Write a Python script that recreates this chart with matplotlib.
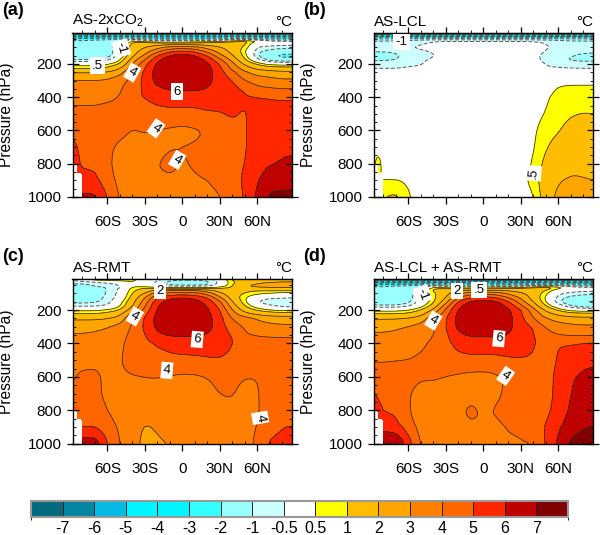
import numpy as np
import matplotlib
matplotlib.use("Agg")
import matplotlib.pyplot as plt
from matplotlib.colors import ListedColormap, BoundaryNorm
from matplotlib.cm import ScalarMappable

plt.rcParams['font.family'] = ['Liberation Sans', 'DejaVu Sans']
plt.rcParams['mathtext.fontset'] = 'custom'
plt.rcParams['mathtext.rm'] = 'Liberation Sans'
plt.rcParams['mathtext.default'] = 'regular'

N = float('nan')
lats = [-88,-84,-80,-70,-60,-50,-40,-30,-20,-10,0,10,20,30,40,50,60,70,80,88]
pres = [14,28,42,55,65,75,85,100,125,150,175,200,225,250,300,350,400,500,600,700,800,850,900,1000]
levels = [-7,-6,-5,-4,-3,-2,-1,-0.5,0.5,1,2,3,4,5,6,7]
level_labels = ['-7','-6','-5','-4','-3','-2','-1','-0.5','0.5','1','2','3','4','5','6','7']
colors = ['#036b7d','#05859f','#06bce4','#00f6ff','#00f6ff','#33ffff','#99ffff','#ccffff','#ffffff',
          '#ffff00','#ffbd00','#ffa500','#ff8000','#ff6600','#ff2600','#bf0000','#800000']

as_2xco2 = [
[-7.6]*20,
[-5.5]*20,
[-3.5]*20,
[-2.2,-2.2,-2.2,-2.0,-1.8,-1.4,-0.3,-0.9,-1.3,-1.4,-1.4,-1.3,-1.2,-0.9,-0.3,-0.1,-0.6,-1.0,-1.1,-1.1],
[-1.8,-1.8,-1.8,-1.7,-1.6,-1.0,0.7,0.4,0.2,0.2,0.2,0.3,0.4,0.6,0.9,1.2,0.5,-0.3,-0.4,-0.4],
[-1.6,-1.6,-1.6,-1.6,-1.5,-0.6,1.2,1.4,1.1,1.0,1.0,1.1,1.2,1.3,1.4,1.3,-0.1,-0.3,-0.3,-0.3],
[-1.6,-1.6,-1.6,-1.6,-1.5,-0.5,1.4,1.6,1.8,2.0,2.2,2.0,1.8,1.6,1.5,1.1,-0.3,-0.3,-0.4,-0.4],
[-1.6,-1.6,-1.6,-1.6,-1.5,-0.3,1.5,1.9,2.6,3.3,3.5,3.3,2.6,2.0,1.6,0.9,-0.5,-0.7,-0.8,-0.8],
[-1.6,-1.6,-1.6,-1.6,-1.5,-0.4,1.5,2.5,3.8,4.9,5.3,4.9,3.8,2.6,1.7,0.6,-0.9,-1.2,-1.5,-1.5],
[-1.6,-1.6,-1.6,-1.6,-1.4,-0.2,1.8,3.2,5.0,6.1,6.4,6.1,5.0,3.3,2.1,0.8,-1.0,-1.8,-2.3,-2.3],
[-1.0,-1.0,-1.0,-1.0,-0.7,0.4,2.5,4.0,5.8,6.6,6.7,6.6,5.8,4.2,2.7,1.1,-0.3,-1.3,-1.6,-1.6],
[0.2,0.2,0.2,0.2,0.4,1.0,3.0,4.7,6.2,6.8,6.9,6.8,6.2,5.0,3.3,1.8,0.9,0.3,0.2,0.2],
[0.9,0.9,0.9,0.9,1.1,1.9,3.5,5.0,6.4,6.9,6.9,6.9,6.4,5.2,3.7,2.5,1.7,1.4,1.3,1.3],
[1.9,1.9,1.9,1.9,2.0,2.6,3.9,5.2,6.5,6.9,6.9,6.9,6.5,5.4,4.3,3.1,2.6,2.4,2.2,2.2],
[3.1,3.1,3.1,3.1,3.2,3.7,4.3,5.3,6.4,6.7,6.8,6.7,6.4,5.5,5.1,4.0,3.6,3.4,3.2,3.2],
[3.4,3.4,3.4,3.4,3.5,3.9,4.5,5.2,5.8,6.1,6.15,6.15,6.0,5.3,5.3,4.9,4.2,4.1,4.0,4.0],
[3.7,3.7,3.7,3.7,3.8,4.0,4.7,5.1,5.4,5.5,5.5,5.5,5.5,5.3,5.3,5.1,5.05,5.0,4.95,4.95],
[4.3,4.3,4.3,4.3,4.4,4.4,4.4,4.4,4.6,4.7,4.7,4.7,4.9,4.97,5.1,4.9,5.3,5.3,5.3,5.3],
[4.8,4.7,4.6,4.5,4.4,4.3,3.95,4.1,3.95,3.8,3.7,3.8,4.0,4.4,4.8,4.9,5.4,5.5,5.5,5.5],
[5.2,5.0,4.7,4.5,4.2,3.8,3.6,3.6,3.7,3.95,4.05,4.1,4.3,4.5,4.7,4.9,5.4,5.7,5.9,5.9],
[6.0,5.2,4.8,4.5,4.2,3.6,3.4,3.5,4.0,4.25,3.9,4.1,4.3,4.4,4.6,5.0,5.5,5.95,6.05,6.1],
[N,5.5,5.2,5.1,4.3,3.65,3.35,3.45,3.9,4.05,3.85,4.0,4.15,4.3,4.55,5.1,5.7,6.3,6.3,6.35],
[N,N,5.4,5.2,4.4,3.7,3.3,3.4,3.7,3.9,3.8,3.9,4.0,4.2,4.5,5.2,5.9,6.6,6.6,6.6],
[N,N,6.2,6.3,5.0,3.9,3.2,3.5,3.8,3.95,3.9,3.8,3.8,3.95,4.3,5.1,6.2,7.2,7.3,7.3],
]

as_lcl = [
[-7.6]*20,
[-5.5]*20,
[-3.0]*20,
[-1.3,-1.3,-1.3,-1.2,-1.1,-0.9,-0.8,-0.8,-0.8,-0.8,-0.8,-0.8,-0.8,-0.8,-0.8,-0.9,-1.1,-1.2,-1.3,-1.3],
[-0.9,-0.9,-0.9,-0.9,-0.9,-0.8,-0.55,-0.5,-0.5,-0.5,-0.5,-0.5,-0.5,-0.5,-0.55,-0.65,-0.8,-0.9,-0.9,-0.9],
[-0.8,-0.8,-0.8,-0.8,-0.8,-0.6,-0.4,-0.2,-0.2,-0.2,-0.2,-0.2,-0.2,-0.2,-0.3,-0.55,-0.7,-0.75,-0.8,-0.8],
[-0.8,-0.8,-0.8,-0.8,-0.7,-0.5,-0.3,-0.1,-0.1,-0.1,-0.1,-0.1,-0.1,-0.1,-0.2,-0.5,-0.65,-0.75,-0.8,-0.8],
[-0.85,-0.85,-0.85,-0.8,-0.55,-0.4,-0.2,-0.1,0,0,0,0,0,0,-0.15,-0.45,-0.6,-0.75,-0.8,-0.8],
[-0.95,-0.95,-0.95,-0.9,-0.7,-0.6,-0.45,-0.15,0,0,0,0,0,0,-0.2,-0.55,-0.7,-0.85,-0.9,-0.95],
[-1.3,-1.3,-1.3,-1.1,-0.8,-0.7,-0.56,-0.2,0,0,0,0,0,0,-0.35,-0.65,-0.8,-0.95,-1.1,-1.1],
[-1.1,-1.1,-1.1,-1.0,-0.75,-0.6,-0.4,-0.1,0,0,0,0,0,0,-0.3,-0.65,-0.8,-1.08,-1.2,-1.2],
[-0.65,-0.65,-0.65,-0.65,-0.6,-0.55,-0.3,0,0,0,0,0,0,0,-0.15,-0.55,-0.6,-0.65,-0.65,-0.65],
[-0.52,-0.52,-0.52,-0.52,-0.45,-0.4,-0.1,0,0,0,0,0,0,0,-0.1,-0.45,-0.48,-0.5,-0.52,-0.52],
[-0.3,-0.3,-0.3,-0.3,-0.3,-0.2,0,0,0,0,0,0,0,0,0,-0.2,-0.3,-0.3,-0.3,-0.3],
[0.1,0.1,0.1,0.1,0.1,0.1,0.1,0.1,0.1,0.1,0.1,0.1,0.1,0.1,0.1,0.2,0.35,0.35,0.35,0.35],
[0.1,0.1,0.1,0.1,0.1,0.1,0.1,0.1,0.1,0.1,0.1,0.1,0.1,0.1,0.1,0.3,0.55,0.62,0.62,0.62],
[0.1,0.1,0.1,0.1,0.1,0.1,0.1,0.1,0.1,0.1,0.1,0.1,0.1,0.1,0.15,0.42,0.65,0.7,0.72,0.72],
[0.1,0.1,0.1,0.1,0.1,0.1,0.1,0.1,0.1,0.1,0.1,0.1,0.1,0.1,0.3,0.52,0.8,0.95,1.02,1.0],
[0.1,0.1,0.1,0.1,0.1,0.1,0.1,0.1,0.1,0.1,0.1,0.1,0.1,0.1,0.4,0.75,0.95,1.2,1.3,1.3],
[0.3,0.2,0.1,0.1,0.1,0.1,0.1,0.1,0.1,0.1,0.1,0.1,0.1,0.15,0.42,0.95,1.25,1.4,1.5,1.5],
[0.3,0.85,0.2,0.1,0.1,0.1,0.1,0.1,0.1,0.1,0.1,0.1,0.1,0.2,0.55,1.2,1.5,1.7,1.8,1.8],
[N,0.8,0.2,0.2,0.1,0.1,0.1,0.1,0.1,0.1,0.1,0.1,0.1,0.25,0.6,1.3,1.7,1.95,1.95,1.95],
[N,N,0.5,0.5,0.38,0.1,0.1,0.1,0.1,0.1,0.1,0.1,0.1,0.3,0.7,1.45,1.9,2.1,2.02,1.97],
[N,N,1.0,1.2,0.6,0.1,0.1,0.1,0.1,0.1,0.1,0.1,0.1,0.2,0.38,1.4,2.3,2.5,2.4,2.3],
]

as_rmt = [
[-0.3,-0.2,0.2,1.2,1.3,1.2,0.7,0.1,-0.3,-0.7,-0.8,-0.8,-0.7,-0.1,1.2,1.5,1.6,1.7,1.7,1.7],
[-0.6,-0.6,-0.5,-0.3,-0.1,0.3,0.6,0.1,-0.6,-1.1,-1.2,-1.2,-1.1,-0.3,0.9,1.5,1.7,1.8,1.9,1.9],
[-1.0,-1.0,-1.0,-0.8,-0.6,-0.4,0.4,0.1,-0.7,-1.3,-1.4,-1.4,-1.2,-0.3,0.9,1.7,2.0,2.2,2.3,2.3],
[-1.2,-1.2,-1.2,-1.0,-0.8,-0.5,0.4,0.2,-0.3,-0.7,-0.8,-0.8,-0.7,0.0,1.0,1.9,2.2,2.3,2.4,2.4],
[-1.2,-1.2,-1.2,-1.1,-1.0,-0.6,0.6,0.8,0.6,0.5,0.5,0.5,0.5,0.7,1.1,1.7,1.9,2.0,2.0,2.0],
[-1.3,-1.3,-1.3,-1.2,-1.0,-0.4,0.8,1.2,1.5,1.6,1.6,1.6,1.5,1.3,1.2,1.3,1.4,1.4,1.4,1.4],
[-1.3,-1.3,-1.3,-1.2,-1.0,-0.4,0.9,1.4,2.5,3.3,3.4,3.3,2.6,1.6,1.2,1.1,1.0,1.0,1.0,1.0],
[-1.3,-1.3,-1.3,-1.2,-1.0,-0.3,1.0,2.0,3.6,4.3,4.4,4.3,3.6,2.2,1.3,1.0,0.7,0.5,0.3,0.2],
[-1.3,-1.3,-1.3,-1.2,-0.9,-0.2,1.3,2.9,5.0,5.8,6.1,5.8,5.0,3.2,1.5,0.6,-0.2,-0.35,-0.4,-0.45],
[-1.2,-1.2,-1.2,-1.1,-0.8,0.2,1.6,3.5,5.7,6.4,6.5,6.4,5.7,4.2,2.0,0.6,-0.5,-0.9,-1.05,-1.1],
[-0.6,-0.6,-0.6,-0.6,-0.4,0.4,1.9,3.9,6.0,6.6,6.7,6.6,6.0,4.7,2.5,1.0,0.0,-0.4,-0.7,-0.8],
[0.3,0.4,0.4,0.4,0.6,1.0,2.6,4.3,6.2,6.8,6.8,6.8,6.2,5.1,3.0,1.6,0.9,0.5,0.35,0.3],
[1.1,1.1,1.1,1.1,1.3,1.8,3.4,4.8,6.3,6.9,6.9,6.9,6.3,5.3,3.5,2.4,1.9,1.6,1.5,1.5],
[1.8,1.8,1.8,1.8,1.9,2.3,4.05,5.05,6.4,6.9,6.9,6.9,6.4,5.4,3.9,3.4,2.9,2.6,2.5,2.5],
[2.8,2.8,2.8,2.85,3.0,3.4,4.1,5.2,6.3,6.7,6.8,6.7,6.4,5.5,4.5,3.9,3.5,3.3,3.2,3.2],
[3.05,3.05,3.05,3.1,3.2,3.6,4.3,4.95,5.8,6.1,6.1,6.1,5.95,5.4,5.0,4.05,4.0,3.95,3.95,3.95],
[3.3,3.3,3.3,3.35,3.5,3.8,4.4,4.8,5.1,5.3,5.5,5.5,5.5,5.4,5.1,4.4,4.2,4.2,4.15,4.15],
[3.7,3.7,3.7,3.8,3.85,3.95,4.3,4.4,4.6,4.75,4.75,4.8,4.9,4.98,4.7,4.4,4.4,4.4,4.4,4.4],
[3.9,4.05,4.2,4.2,3.8,3.9,3.95,4.0,4.03,3.9,3.8,3.8,3.95,4.2,4.2,4.0,4.0,4.3,4.4,4.4],
[4.2,4.3,4.4,4.2,3.8,3.7,3.7,3.7,3.6,3.6,3.6,3.7,3.85,4.0,4.05,3.8,3.9,4.4,4.5,4.5],
[4.4,4.4,4.4,4.3,4.02,3.6,3.4,3.3,3.4,3.5,3.5,3.6,3.7,3.85,3.9,3.7,3.9,4.4,4.6,4.7],
[N,4.6,4.5,4.4,4.2,3.7,3.3,3.1,3.2,3.4,3.5,3.6,3.65,3.8,3.85,3.7,3.95,4.4,4.75,4.85],
[N,N,4.9,4.9,4.4,3.85,3.2,2.95,3.05,3.3,3.5,3.55,3.6,3.7,3.8,3.65,4.0,4.5,4.95,5.0],
[N,N,6.6,6.8,5.0,4.0,3.2,2.85,2.9,3.0,3.2,3.3,3.3,3.4,3.5,3.6,4.2,5.2,5.4,5.4],
]

as_sum = [
[-7.6]*20,
[-5.5]*20,
[-3.5]*20,
[-2.2,-2.2,-2.2,-2.0,-1.8,-1.4,-0.3,-0.9,-1.2,-1.3,-1.3,-1.2,-1.1,-0.8,-0.3,-0.1,-0.5,-0.9,-1.0,-1.0],
[-1.8,-1.8,-1.8,-1.7,-1.6,-0.9,0.7,0.4,0.3,0.3,0.3,0.4,0.4,0.6,0.9,1.2,0.9,-0.2,-0.4,-0.4],
[-1.6,-1.6,-1.6,-1.6,-1.4,-0.5,1.1,1.3,1.2,1.1,1.1,1.2,1.3,1.4,1.5,1.3,0.4,-0.2,-0.3,-0.3],
[-1.6,-1.6,-1.6,-1.5,-1.4,-0.4,1.2,1.5,2.0,2.3,2.4,2.3,2.0,1.7,1.5,1.0,-0.1,-0.3,-0.4,-0.4],
[-1.6,-1.6,-1.6,-1.5,-1.4,-0.3,0.9,1.6,2.8,3.5,3.7,3.5,2.8,2.1,1.6,0.7,-0.4,-0.6,-0.8,-0.8],
[-1.6,-1.6,-1.6,-1.5,-1.4,-0.3,0.8,1.9,4.0,5.0,5.4,5.0,4.0,2.8,1.6,0.4,-0.7,-1.2,-1.4,-1.5],
[-1.5,-1.5,-1.5,-1.5,-1.2,-0.2,0.8,2.6,5.1,6.2,6.4,6.2,5.1,3.5,2.0,0.5,-0.9,-1.6,-2.1,-2.2],
[-0.9,-0.9,-0.9,-0.9,-0.6,0.2,1.3,3.5,5.8,6.6,6.7,6.6,5.8,4.3,2.6,1.0,-0.1,-1.0,-1.4,-1.5],
[0.3,0.3,0.3,0.3,0.5,1.0,2.2,4.2,6.1,6.8,6.9,6.8,6.2,5.1,3.4,1.8,0.9,0.3,0.2,0.2],
[1.1,1.1,1.1,1.1,1.2,1.7,3.0,4.6,6.3,6.9,6.9,6.9,6.3,5.2,3.8,2.5,1.8,1.4,1.3,1.3],
[1.9,1.9,1.9,1.9,2.0,2.5,3.6,4.9,6.4,6.9,6.9,6.9,6.4,5.3,4.0,3.0,2.6,2.4,2.3,2.3],
[2.8,2.8,2.8,2.9,3.1,3.4,3.8,5.0,6.3,6.7,6.8,6.7,6.3,5.5,5.0,3.9,3.5,3.3,3.2,3.2],
[3.1,3.1,3.1,3.15,3.3,3.6,3.95,4.8,5.8,6.1,6.1,6.1,6.0,5.4,5.1,4.4,4.0,3.9,3.9,3.9],
[3.4,3.4,3.4,3.4,3.5,3.8,4.2,4.7,5.4,5.6,5.6,5.6,5.5,5.3,5.15,4.6,5.0,5.0,5.05,5.05],
[3.95,3.95,3.95,4.0,4.05,4.2,4.3,4.4,4.6,4.7,4.7,4.7,4.9,4.97,4.9,4.5,5.1,5.4,5.7,5.8],
[4.5,4.4,4.4,4.4,4.3,4.1,4.1,4.0,3.85,3.7,3.65,3.8,4.1,4.4,4.6,4.7,5.2,5.9,6.2,6.3],
[5.0,4.8,4.6,4.5,4.05,3.7,3.7,3.6,3.6,3.6,3.6,3.8,4.2,4.4,4.6,4.7,5.2,6.0,6.4,6.5],
[6.1,5.3,5.0,4.7,4.1,3.5,3.4,3.5,3.7,4.3,3.8,4.1,4.3,4.4,4.6,4.8,5.3,6.2,6.5,6.6],
[N,5.6,5.4,5.1,4.2,3.55,3.35,3.45,3.6,4.1,3.85,3.95,4.2,4.3,4.5,4.9,5.5,6.4,6.7,6.7],
[N,N,5.5,5.3,4.5,3.6,3.3,3.4,3.6,3.8,3.75,3.85,4.05,4.1,4.4,5.05,5.8,6.6,6.9,7.0],
[N,N,7.2,7.3,5.5,3.9,3.3,3.6,3.9,3.95,3.9,3.85,3.9,3.95,3.95,5.1,6.2,7.2,7.5,7.5],
]

panels = [
 ('(a)', 'AS-2xCO$_2$', as_2xco2, [72.5, 33, 292, 197], True,
  [('-1',-49,106,-75),('.5',-68,210,0),('4',-40,252,-30),('6',-4,367,0),('4',-21,587,-35),('4',-4,777,-30)]),
 ('(b)', 'AS-LCL', as_lcl, [373.5, 33, 593, 197], True,
  [('-1',-65.6,69,0),('.5',40,857,85)]),
 ('(c)', 'AS-RMT', as_rmt, [72.5, 279, 292, 443.7], False,
  [('2',-18,86,0),('4',-38,238,-30),('6',12,376,-5),('4',-12.3,561,-5),('4',62.5,845,-80)]),
 ('(d)', 'AS-LCL + AS-RMT', as_sum, [373.5, 279, 593, 443.7], True,
  [('-1',-49,106,-70),('2',-21,86,0),('.5',-3.4,80,0),('6',12.5,371,-5),('4',18,594,-35),('4',-40,263,-30)]),
]


def refine(x, y, z, sub=4):
    """Soften the hand-read grid so contours curve instead of kinking."""
    z = np.array(z, dtype=float)
    miss = np.isnan(z).astype(float)
    for row in z:
        row[np.isnan(row)] = row[~np.isnan(row)][0]
    ix = np.arange(len(x))
    iy = np.arange(len(y))
    fx = np.linspace(0, len(x)-1, (len(x)-1)*sub+1)
    fy = np.linspace(0, len(y)-1, (len(y)-1)*sub+1)

    def up(a):
        a = np.array([np.interp(fx, ix, r) for r in a])
        return np.array([np.interp(fy, iy, c) for c in a.T]).T

    out = up(z)
    m = up(miss) > 0
    kernel = np.array([1, 2, 3, 2, 1]) / 9
    for axis in (0, 1):
        pad = [(2, 2) if k == axis else (0, 0) for k in (0, 1)]
        p = np.pad(out, pad, mode='edge')
        out = np.apply_along_axis(lambda v: np.convolve(v, kernel, mode='valid'), axis, p)
    out[m] = np.nan
    return np.interp(fx, ix, x), np.interp(fy, iy, y), out


W, H = 600, 535
fig = plt.figure(figsize=(W/100, H/100), dpi=100)
FS = 11

for tag, title, data, (l, t, r, b), band, labels in panels:
    ax = fig.add_axes([l/W, 1-b/H, (r-l)/W, (b-t)/H])
    gx, gy, z = refine(lats, pres, data)
    ax.contourf(gx, gy, z, levels=[-100]+levels+[100], colors=colors)
    neg = [v for v in levels if v < 0]
    pos = [v for v in levels if v > 0]
    ax.contour(gx, gy, z, levels=neg, colors='#555555', linewidths=0.7,
               linestyles=[(0, (4, 2))])
    ax.contour(gx, gy, z, levels=pos, colors='#3a2a10', linewidths=0.55,
               linestyles='solid')
    for s, la, pr, rot in labels:
        ax.text(la, pr, s, ha='center', va='center', fontsize=9.5, rotation=rot, zorder=6,
                bbox=dict(facecolor='white', edgecolor='none', pad=1.6))
    ax.set_xlim(-88, 88)
    ax.set_ylim(1000, 14)
    ax.set_xticks([-60, -30, 0, 30, 60])
    ax.set_xticklabels(['60S', '30S', '0', '30N', '60N'], fontsize=FS)
    ax.set_xticks(np.arange(-80, 81, 10), minor=True)
    ax.set_yticks([200, 400, 600, 800, 1000])
    ax.set_yticks(np.arange(50, 1000, 50), minor=True)
    ax.tick_params(axis='x', which='major', direction='out', length=5, width=0.9, pad=8, labelsize=FS)
    ax.tick_params(axis='y', which='major', direction='inout', length=9, width=0.9, pad=3, labelsize=FS,
                   left=True, right=True)
    ax.tick_params(axis='x', which='minor', direction='in', length=2.5, width=0.6)
    ax.tick_params(axis='y', which='minor', direction='in', length=2.5, width=0.6, left=True, right=True)
    ax.set_ylabel('Pressure (hPa)', fontsize=11.2)
    ax.yaxis.set_label_coords(-58 / (r - l), 0.5)
    top = ax.secondary_xaxis('top')
    top.set_xticks([-60, -30, 0, 30, 60])
    top.set_xticks(np.arange(-80, 81, 10), minor=True)
    top.set_xticklabels([])
    top.tick_params(which='major', direction='out', length=4, width=0.9)
    top.tick_params(which='minor', direction='out', length=2, width=0.6)
    if band:
        wt = ax.secondary_xaxis('top')
        wt.set_xticks(np.arange(-84, 85, 4))
        wt.set_xticklabels([])
        wt.tick_params(direction='in', length=5, width=0.8, color='white')
        wt.spines['top'].set_visible(False)
    for sp in ax.spines.values():
        sp.set_linewidth(1.0)
    ax.text(0, 1.022, title, transform=ax.transAxes, ha='left', va='bottom', fontsize=FS)
    ax.text(1, 1.022, '\u00b0C', transform=ax.transAxes, ha='right', va='bottom', fontsize=FS)
    fig.text((l-70.5)/W, 1-(t-22.5)/H, tag, ha='left', va='center', fontsize=13, fontweight='bold')

cax = fig.add_axes([31/W, 1-516.7/H, 537/W, 16/H])
cmap = ListedColormap(colors)
bounds = [-8]+levels+[8]
norm = BoundaryNorm(bounds, cmap.N)
cb = fig.colorbar(ScalarMappable(norm=norm, cmap=cmap), cax=cax, orientation='horizontal',
                  spacing='uniform', boundaries=bounds, ticks=levels, drawedges=True)
cb.dividers.set_color('#222222')
cb.dividers.set_linewidth(0.7)
cb.outline.set_edgecolor('#999999')
cb.outline.set_linewidth(1.5)
cb.set_ticklabels(level_labels)
cax.tick_params(length=0, pad=3, labelsize=11.5)

fig.savefig('out.png', dpi=100)
